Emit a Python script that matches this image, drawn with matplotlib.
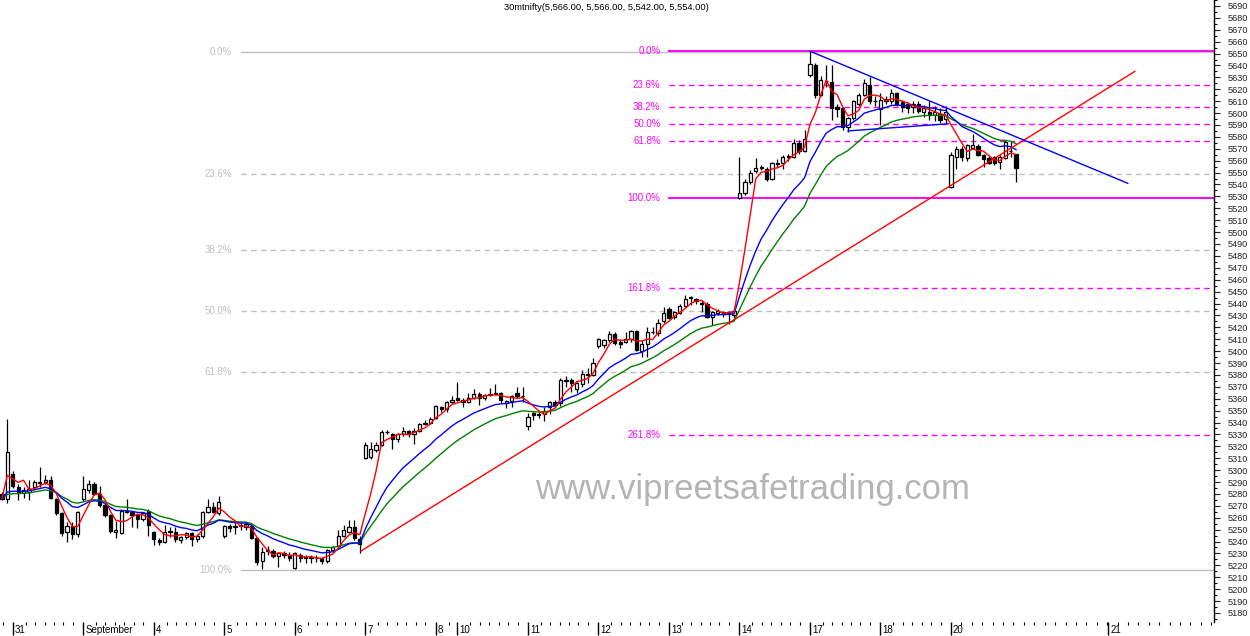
import matplotlib
matplotlib.use("Agg")
import matplotlib.pyplot as plt
import matplotlib.transforms as mtransforms
from matplotlib.ticker import MultipleLocator, FixedLocator
import numpy as np
import pandas as pd

plt.rcParams["font.family"] = ["Liberation Sans", "DejaVu Sans"]

# 30 minute nifty bars, Aug 30 (last two) .. Sep 20
opens = [5280, 5276, 5297, 5286, 5281, 5282, 5286, 5289, 5290, 5292, 5276, 5264, 5248, 5253, 5246,
         5276, 5283, 5288, 5280, 5271, 5262, 5248, 5247, 5266, 5265, 5262, 5259, 5266,
         5248, 5241, 5240, 5248, 5248, 5241, 5244, 5247, 5242, 5245, 5265, 5269, 5264,
         5245, 5253, 5252, 5253, 5252, 5253, 5243, 5224, 5232, 5232, 5228, 5230, 5229,
         5218, 5229, 5227, 5226, 5226, 5226, 5224, 5233, 5236, 5245, 5248, 5252, 5242,
         5310, 5311, 5317, 5321, 5332, 5330, 5326, 5330, 5333, 5330, 5333, 5339, 5340,
         5344, 5353, 5351, 5357,
         5361, 5359, 5357, 5361, 5364, 5361, 5363, 5364, 5365, 5356, 5358, 5365, 5362,
         5337, 5348, 5347, 5347, 5353, 5357, 5356, 5376, 5376, 5368, 5372, 5380, 5380,
         5404, 5405, 5409, 5414, 5408, 5408, 5410, 5417, 5400, 5406, 5416, 5415, 5425,
         5435, 5429, 5432, 5438, 5445, 5444, 5440, 5440, 5429, 5432, 5433, 5431, 5430,
         5529, 5533, 5542, 5551, 5554, 5553, 5545, 5557, 5558, 5563, 5563, 5575, 5568,
         5632, 5640, 5615, 5627, 5626, 5605, 5604, 5588, 5596, 5608, 5615, 5624, 5610,
         5603, 5612, 5610, 5617, 5609, 5608, 5605, 5608, 5601, 5601, 5598, 5599, 5595,
         5538, 5563, 5570, 5562, 5571, 5572, 5565, 5562, 5563, 5559, 5562, 5568, 5566]
highs = [5282, 5343, 5299, 5288, 5286, 5292, 5292, 5303, 5296, 5295, 5277, 5265, 5256, 5256, 5266,
         5295, 5292, 5290, 5287, 5272, 5263, 5257, 5267, 5276, 5266, 5263, 5265, 5267,
         5249, 5243, 5254, 5252, 5252, 5245, 5248, 5248, 5246, 5266, 5276, 5273, 5278,
         5254, 5255, 5256, 5256, 5256, 5255, 5244, 5235, 5236, 5234, 5231, 5232, 5231,
         5231, 5230, 5229, 5229, 5229, 5227, 5234, 5236, 5250, 5254, 5258, 5258, 5245,
         5324, 5324, 5324, 5334, 5334, 5331, 5331, 5336, 5334, 5335, 5340, 5342, 5345,
         5355, 5354, 5358, 5362,
         5374, 5361, 5365, 5368, 5366, 5364, 5369, 5372, 5366, 5359, 5363, 5370, 5370,
         5348, 5349, 5349, 5353, 5358, 5359, 5377, 5379, 5377, 5374, 5384, 5386, 5394,
         5411, 5410, 5417, 5416, 5410, 5416, 5418, 5418, 5409, 5420, 5420, 5427, 5437,
         5437, 5434, 5440, 5447, 5446, 5445, 5442, 5441, 5434, 5435, 5434, 5434, 5435,
         5563, 5545, 5552, 5562, 5556, 5555, 5559, 5561, 5565, 5566, 5578, 5577, 5586,
         5652, 5642, 5631, 5640, 5640, 5608, 5605, 5597, 5611, 5617, 5629, 5630, 5614,
         5617, 5614, 5620, 5618, 5611, 5609, 5610, 5610, 5607, 5610, 5606, 5604, 5606,
         5567, 5572, 5572, 5574, 5582, 5574, 5566, 5564, 5564, 5565, 5577, 5576, 5566]
lows = [5275, 5272, 5285, 5275, 5277, 5275, 5283, 5286, 5288, 5276, 5262, 5245, 5240, 5242, 5244,
        5274, 5281, 5279, 5269, 5261, 5247, 5243, 5246, 5264, 5252, 5251, 5257, 5245,
        5237, 5237, 5239, 5244, 5240, 5239, 5242, 5236, 5240, 5243, 5264, 5264, 5262,
        5243, 5248, 5246, 5250, 5250, 5242, 5220, 5217, 5229, 5226, 5219, 5226, 5224,
        5217, 5223, 5222, 5222, 5223, 5221, 5222, 5231, 5234, 5244, 5247, 5241, 5230,
        5309, 5309, 5315, 5320, 5330, 5318, 5324, 5329, 5328, 5322, 5332, 5338, 5339,
        5343, 5349, 5349, 5356,
        5358, 5353, 5356, 5360, 5355, 5359, 5362, 5363, 5356, 5352, 5353, 5361, 5357,
        5334, 5342, 5344, 5341, 5347, 5353, 5354, 5370, 5366, 5365, 5370, 5373, 5379,
        5403, 5403, 5408, 5405, 5403, 5407, 5408, 5400, 5395, 5395, 5414, 5413, 5424,
        5427, 5427, 5431, 5437, 5439, 5440, 5433, 5428, 5422, 5430, 5429, 5423, 5428,
        5528, 5531, 5540, 5550, 5552, 5543, 5544, 5555, 5553, 5560, 5562, 5566, 5567,
        5630, 5613, 5614, 5622, 5594, 5597, 5586, 5584, 5594, 5606, 5614, 5608, 5606,
        5590, 5608, 5608, 5606, 5601, 5600, 5600, 5600, 5597, 5594, 5593, 5592, 5592,
        5537, 5553, 5560, 5560, 5570, 5564, 5555, 5557, 5556, 5553, 5561, 5563, 5542]
closes = [5276, 5315, 5287, 5281, 5283, 5284, 5290, 5290, 5292, 5277, 5264, 5247, 5253, 5246, 5265,
          5284, 5288, 5280, 5271, 5262, 5249, 5250, 5266, 5265, 5262, 5259, 5264, 5254,
          5242, 5240, 5248, 5249, 5242, 5244, 5247, 5242, 5245, 5265, 5269, 5265, 5273,
          5253, 5251, 5253, 5254, 5255, 5243, 5223, 5231, 5233, 5228, 5230, 5229, 5226,
          5230, 5226, 5226, 5227, 5226, 5224, 5233, 5235, 5245, 5250, 5252, 5243, 5238,
          5321, 5318, 5321, 5332, 5332, 5326, 5330, 5333, 5330, 5333, 5339, 5340, 5343,
          5354, 5351, 5357, 5359,
          5359, 5357, 5361, 5364, 5361, 5363, 5364, 5365, 5359, 5358, 5362, 5362, 5362,
          5345, 5346, 5346, 5350, 5357, 5355, 5376, 5375, 5373, 5373, 5381, 5381, 5390,
          5410, 5409, 5414, 5407, 5406, 5410, 5417, 5401, 5406, 5416, 5416, 5424, 5432,
          5428, 5433, 5438, 5444, 5445, 5442, 5440, 5429, 5433, 5434, 5431, 5432, 5434,
          5533, 5542, 5550, 5554, 5555, 5545, 5558, 5558, 5563, 5564, 5575, 5568, 5578,
          5641, 5615, 5628, 5627, 5604, 5603, 5588, 5596, 5610, 5615, 5625, 5610, 5610,
          5611, 5610, 5617, 5608, 5605, 5604, 5608, 5602, 5604, 5598, 5601, 5594, 5601,
          5565, 5570, 5563, 5573, 5573, 5565, 5561, 5558, 5558, 5563, 5576, 5568, 5554]

day_starts = [2, 15, 28, 41, 54, 67, 80, 84, 97, 110, 123, 136, 149, 162, 175, 204]
day_labels = ["31", "September", "4", "5", "6", "7", "8", "10", "11", "12", "13", "14",
              "17", "18", "20", "21"]
hour_offsets = [2.4, 4.1, 5.9, 7.6, 9.3, 11.1]

# fibonacci drawings
left_fib_levels = [0.0, 23.6, 38.2, 50.0, 61.8, 100.0]
left_fib_high, left_fib_low, left_fib_start = 5651.5, 5216, 44
right_fib_levels = [0.0, 23.6, 38.2, 50.0, 61.8, 100.0, 161.8, 261.8]
right_fib_high, right_fib_low, right_fib_start = 5652.5, 5529, 123

# trendlines (bar, price)
up_trend_bars, up_trend_prices = [66.2, 208.9], [5232, 5635]
down_trend_bars, down_trend_prices = [149, 207.6], [5652, 5541]
flat_trend_bars, flat_trend_prices = [156, 174.5], [5585, 5591]

title = "30mtnifty(5,566.00, 5,566.00, 5,542.00, 5,554.00)"
watermark = "www.vipreetsafetrading.com"

o = np.array(opens, float)
h = np.array(highs, float)
l = np.array(lows, float)
c = np.array(closes, float)
x = np.arange(len(c))

cs = pd.Series(c)
ma_red = cs.rolling(4, min_periods=1).mean()
ma_blue = cs.ewm(span=13, adjust=False).mean()
ma_green = cs.ewm(span=21, adjust=False).mean()

fig = plt.figure(figsize=(12.5, 6.36), dpi=100)
ax = fig.add_axes([0, 1 - 622 / 636, 1214 / 1250, 622 / 636])

ax.set_xlim(-0.35, 223.5)
ax.set_ylim(5172.4, 5695.0)

# fib lines
for lev in left_fib_levels:
    val = left_fib_high - (left_fib_high - left_fib_low) * lev / 100
    ls = "-" if lev in (0.0, 100.0) else (0, (4, 3))
    ax.plot([left_fib_start, 223.5], [val, val], color="#c0c0c0", lw=1, ls=ls, zorder=1)
    ax.annotate(f"{lev:.1f}%", (left_fib_start, val), xytext=(-6, 0), textcoords="offset points",
                ha="right", va="center", fontsize=7, color="#c0c0c0")
for lev in right_fib_levels:
    val = right_fib_high - (right_fib_high - right_fib_low) * lev / 100
    solid = lev in (0.0, 100.0)
    ax.plot([right_fib_start, 223.5], [val, val], color="#ff00ff",
            lw=1.4 if solid else 1, ls="-" if solid else (0, (4, 3)), zorder=1)
    ax.annotate(f"{lev:.1f}%", (right_fib_start, val), xytext=(-6, 0), textcoords="offset points",
                ha="right", va="center", fontsize=7, color="#ff00ff")

# candles
up = c >= o
body_lo = np.minimum(o, c)
body_hi = np.maximum(o, c)
ax.vlines(x, l, body_lo, color="black", lw=0.9, zorder=2)
ax.vlines(x, body_hi, h, color="black", lw=0.9, zorder=2)
ax.bar(x, np.maximum(body_hi - body_lo, 0.3), bottom=body_lo, width=0.6,
       color=np.where(up, "white", "black"), edgecolor="black", linewidth=0.9, zorder=2)

# moving averages
ax.plot(x, ma_green, color="#008000", lw=1, zorder=3)
ax.plot(x, ma_blue, color="#0000ff", lw=1, zorder=3)
ax.plot(x, ma_red, color="#ff0000", lw=1, zorder=3)

# trendlines
ax.plot(up_trend_bars, up_trend_prices, color="#ff0000", lw=1, zorder=3)
ax.plot(down_trend_bars, down_trend_prices, color="#0000ff", lw=1, zorder=3)
ax.plot(flat_trend_bars, flat_trend_prices, color="#0000ff", lw=1, zorder=3)

# axes styling
for s in ["left", "top", "bottom"]:
    ax.spines[s].set_visible(False)
ax.spines["right"].set_linewidth(1)
ax.yaxis.tick_right()
ax.yaxis.set_major_locator(MultipleLocator(10))
ax.yaxis.set_minor_locator(MultipleLocator(5))
ax.tick_params(axis="y", which="major", length=4.5, width=0.8, labelsize=6.6, pad=5.5, colors="#222222")
ax.tick_params(axis="y", which="minor", length=2.2, width=0.8)

minor_x = []
for d in day_starts[:-1]:
    for off in hour_offsets:
        if d == 80 and off > 3:
            continue
        if d == 175:
            break
        minor_x.append(d + off)
minor_x.append(0.26)
minor_x += list(np.arange(175 + 1.92, 223.5, 1.92))
ax.xaxis.set_major_locator(FixedLocator(day_starts))
ax.xaxis.set_minor_locator(FixedLocator(minor_x))
ax.tick_params(axis="x", which="major", length=9, width=1, labelbottom=False)
ax.tick_params(axis="x", which="minor", length=2.5, width=0.8)

trans = mtransforms.blended_transform_factory(ax.transData, ax.transAxes)
for d, lab in zip(day_starts, day_labels):
    ax.text(d + 0.35, -0.005, lab, transform=trans, ha="left", va="top", fontsize=7, color="black")

fig.text(606 / 1250, 1 - 7 / 636, title, ha="center", va="center", fontsize=6.7)
fig.text(752 / 1250, 1 - 490 / 636, watermark, ha="center", va="center", fontsize=25,
         color="#b4b4b4", zorder=0)

fig.savefig("out.png", dpi=100)
